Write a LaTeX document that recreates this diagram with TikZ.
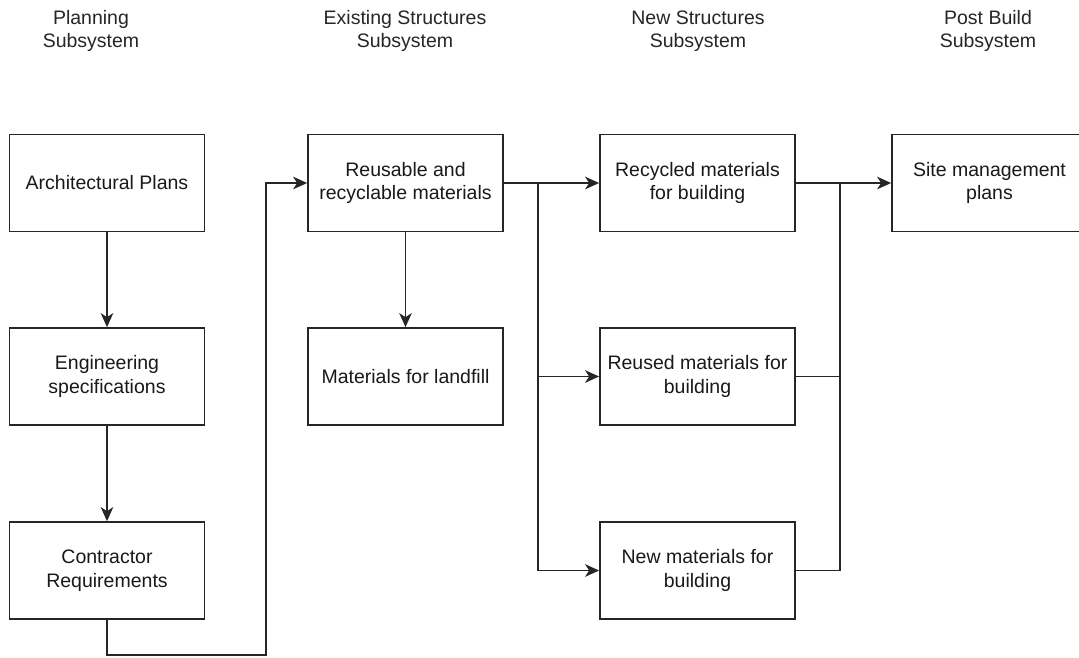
\documentclass[tikz,border=0pt]{standalone}
\usepackage{fontspec}
\setmainfont{Liberation Sans}
\usetikzlibrary{arrows.meta}
\tikzset{
  box/.style={draw=black!85, line width=1.7pt, rectangle, minimum width=195pt, minimum height=97pt, align=center, inner sep=0pt, font=\fontsize{19.5}{23.5}\selectfont, text=black!90},
  hdr/.style={align=center, inner sep=0pt, font=\fontsize{19.5}{23.5}\selectfont, text=black!85},
  link/.style={draw=black!85, line width=1.7pt},
  arr/.style={link, -{Stealth[length=14pt, width=12.5pt, inset=4pt]}}
}
\begin{document}
\begin{tikzpicture}[x=1pt, y=-1pt]
\clip (0,0) rectangle (1079,657);
\fill[white] (0,0) rectangle (1079,657);
% headers
\node[hdr] (h1) at (91,31) {Planning\\Subsystem};
\node[hdr] (h2) at (405,31) {Existing Structures\\Subsystem};
\node[hdr] (h3) at (698,31) {New Structures\\Subsystem};
\node[hdr] (h4) at (988,31) {Post Build\\Subsystem};
% boxes
\node[box] (arch) at (107,183) {Architectural Plans};
\node[box] (eng) at (107,376.5) {Engineering\\specifications};
\node[box] (con) at (107,570.5) {Contractor\\Requirements};
\node[box] (reu) at (405.5,183) {Reusable and\\recyclable materials};
\node[box] (land) at (405.5,376.5) {Materials for landfill};
\node[box] (rec) at (697.5,183) {Recycled materials\\for building};
\node[box] (rus) at (697.5,376.5) {Reused materials for\\building};
\node[box] (new) at (697.5,570.5) {New materials for\\building};
\node[box] (site) at (989.5,183) {Site management\\plans};
% connectors
\draw[arr] (arch.south) -- (eng.north);
\draw[arr] (eng.south) -- (con.north);
\coordinate (loop) at (266,655);
\draw[arr] (con.south) |- (loop) |- (reu.west);
\draw[arr] (reu.south) -- (land.north);
\coordinate (split) at (538,183);
\draw[arr] (reu.east) -- (rec.west);
\draw[arr] (split) |- (rus.west);
\draw[arr] (split) |- (new.west);
\coordinate (merge) at (840,183);
\draw[arr] (rec.east) -- (site.west);
\draw[link] (rus.east) -| (merge);
\draw[link] (new.east) -| (merge);
\end{tikzpicture}
\end{document}
